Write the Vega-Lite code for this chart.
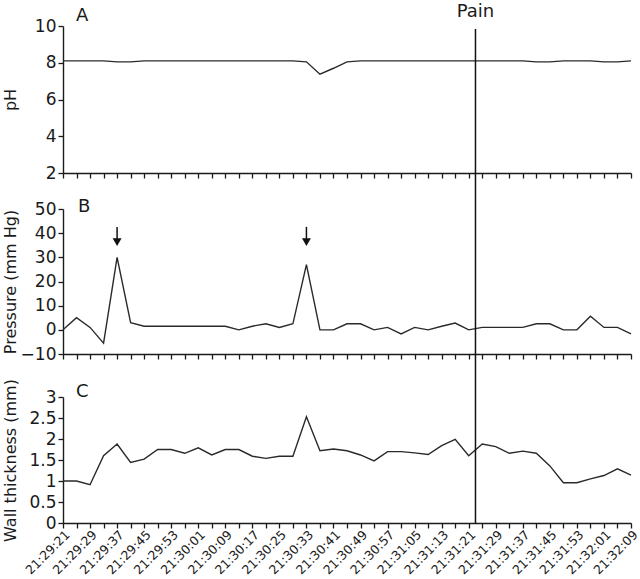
{
  "$schema": "https://vega.github.io/schema/vega-lite/v6.json",
  "background": "white",
  "padding": {"left": 1, "top": 2, "right": 5, "bottom": 0},
  "config": {
    "font": "DejaVu Sans",
    "view": {"stroke": null},
    "axis": {
      "grid": false,
      "domainColor": "#1a1a1a",
      "tickColor": "#1a1a1a",
      "labelColor": "#1a1a1a",
      "titleColor": "#1a1a1a",
      "domainWidth": 1.4,
      "tickWidth": 1.3,
      "tickSize": 5,
      "tickCount": 100,
      "labelOverlap": false,
      "labelBound": false,
      "labelFlush": false,
      "titleFontWeight": "normal",
      "labelFont": "DejaVu Sans",
      "titleFont": "DejaVu Sans"
    }
  },
  "datasets": {
    "series": [
      {"t": 0, "pH": 8.1, "pressure": 0, "wall": 1.0},
      {"t": 4, "pH": 8.1, "pressure": 5, "wall": 1.0},
      {"t": 8, "pH": 8.1, "pressure": 1, "wall": 0.91},
      {"t": 12, "pH": 8.1, "pressure": -5.5, "wall": 1.6},
      {"t": 16, "pH": 8.05, "pressure": 30, "wall": 1.88},
      {"t": 20, "pH": 8.05, "pressure": 3, "wall": 1.44},
      {"t": 24, "pH": 8.1, "pressure": 1.5, "wall": 1.52},
      {"t": 28, "pH": 8.1, "pressure": 1.5, "wall": 1.75},
      {"t": 32, "pH": 8.1, "pressure": 1.5, "wall": 1.75},
      {"t": 36, "pH": 8.1, "pressure": 1.5, "wall": 1.66},
      {"t": 40, "pH": 8.1, "pressure": 1.5, "wall": 1.79},
      {"t": 44, "pH": 8.1, "pressure": 1.5, "wall": 1.62},
      {"t": 48, "pH": 8.1, "pressure": 1.5, "wall": 1.75},
      {"t": 52, "pH": 8.1, "pressure": 0, "wall": 1.75},
      {"t": 56, "pH": 8.1, "pressure": 1.5, "wall": 1.59},
      {"t": 60, "pH": 8.1, "pressure": 2.5, "wall": 1.54},
      {"t": 64, "pH": 8.1, "pressure": 1, "wall": 1.59},
      {"t": 68, "pH": 8.1, "pressure": 2.5, "wall": 1.59},
      {"t": 72, "pH": 8.05, "pressure": 27, "wall": 2.53},
      {"t": 76, "pH": 7.38, "pressure": 0, "wall": 1.72},
      {"t": 80, "pH": 7.7, "pressure": 0, "wall": 1.76},
      {"t": 84, "pH": 8.05, "pressure": 2.5, "wall": 1.72},
      {"t": 88, "pH": 8.1, "pressure": 2.5, "wall": 1.62},
      {"t": 92, "pH": 8.1, "pressure": 0, "wall": 1.48},
      {"t": 96, "pH": 8.1, "pressure": 1, "wall": 1.7},
      {"t": 100, "pH": 8.1, "pressure": -1.7, "wall": 1.7},
      {"t": 104, "pH": 8.1, "pressure": 1, "wall": 1.67},
      {"t": 108, "pH": 8.1, "pressure": 0, "wall": 1.63},
      {"t": 112, "pH": 8.1, "pressure": 1.5, "wall": 1.84},
      {"t": 116, "pH": 8.1, "pressure": 2.8, "wall": 1.99},
      {"t": 120, "pH": 8.1, "pressure": 0, "wall": 1.6},
      {"t": 124, "pH": 8.1, "pressure": 1, "wall": 1.88},
      {"t": 128, "pH": 8.1, "pressure": 1, "wall": 1.82},
      {"t": 132, "pH": 8.1, "pressure": 1, "wall": 1.66},
      {"t": 136, "pH": 8.1, "pressure": 1, "wall": 1.71},
      {"t": 140, "pH": 8.05, "pressure": 2.5, "wall": 1.66},
      {"t": 144, "pH": 8.05, "pressure": 2.5, "wall": 1.36},
      {"t": 148, "pH": 8.1, "pressure": 0, "wall": 0.96},
      {"t": 152, "pH": 8.1, "pressure": 0, "wall": 0.96},
      {"t": 156, "pH": 8.1, "pressure": 5.6, "wall": 1.05},
      {"t": 160, "pH": 8.05, "pressure": 1, "wall": 1.13},
      {"t": 164, "pH": 8.05, "pressure": 1, "wall": 1.29},
      {"t": 168, "pH": 8.1, "pressure": -1.7, "wall": 1.14}
    ],
    "pain": [{"t": 122, "label": "Pain"}],
    "arrows": [{"t": 16}, {"t": 72}]
  },
  "bounds": "flush",
  "spacing": 36,
  "vconcat": [
    {
      "width": 568,
      "height": 147,
      "layer": [
        {
          "data": {"name": "series"},
          "mark": {"type": "line", "color": "#2a2a2a", "strokeWidth": 1.4},
          "encoding": {
            "x": {
              "field": "t", "type": "quantitative",
              "scale": {"domain": [0, 168], "nice": false, "zero": false},
              "axis": {"values": [0,4,8,12,16,20,24,28,32,36,40,44,48,52,56,60,64,68,72,76,80,84,88,92,96,100,104,108,112,116,120,124,128,132,136,140,144,148,152,156,160,164,168], "tickCount": 100, "labels": false, "title": null}
            },
            "y": {
              "field": "pH", "type": "quantitative",
              "scale": {"domain": [2, 10], "nice": false, "zero": false},
              "axis": {"values": [2, 4, 6, 8, 10], "tickCount": 100, "format": "~g", "title": "pH", "labelFontSize": 17, "labelPadding": 2, "titleFontSize": 16, "titleX": -45}
            }
          }
        },
        {
          "data": {"name": "pain"},
          "mark": {"type": "rule", "color": "#111", "strokeWidth": 1.5},
          "encoding": {
            "x": {"field": "t", "type": "quantitative"},
            "y": {"datum": 9.84},
            "y2": {"datum": 0.04}
          }
        },
        {
          "data": {"name": "pain"},
          "mark": {"type": "text", "fontSize": 18, "baseline": "alphabetic", "align": "center", "color": "#1a1a1a"},
          "encoding": {
            "x": {"field": "t", "type": "quantitative"},
            "y": {"datum": 10.5},
            "text": {"field": "label"}
          }
        },
        {
          "data": {"values": [{"t": 3.85, "label": "A"}]},
          "mark": {"type": "text", "fontSize": 18, "baseline": "alphabetic", "align": "left", "color": "#1a1a1a"},
          "encoding": {
            "x": {"field": "t", "type": "quantitative"},
            "y": {"datum": 10.27},
            "text": {"field": "label"}
          }
        }
      ]
    },
    {
      "bounds": "flush",
      "spacing": 43,
      "vconcat": [
        {
          "width": 568,
          "height": 145,
          "layer": [
            {
              "data": {"name": "series"},
              "mark": {"type": "line", "color": "#2a2a2a", "strokeWidth": 1.4},
              "encoding": {
                "x": {
                  "field": "t", "type": "quantitative",
                  "scale": {"domain": [0, 168], "nice": false, "zero": false},
                  "axis": {"values": [0,4,8,12,16,20,24,28,32,36,40,44,48,52,56,60,64,68,72,76,80,84,88,92,96,100,104,108,112,116,120,124,128,132,136,140,144,148,152,156,160,164,168], "tickCount": 100, "labels": false, "title": null}
                },
                "y": {
                  "field": "pressure", "type": "quantitative",
                  "scale": {"domain": [-10, 50], "nice": false, "zero": false},
                  "axis": {"values": [-10, 0, 10, 20, 30, 40, 50], "tickCount": 100, "format": "~g", "title": "Pressure (mm Hg)", "labelFontSize": 17, "labelPadding": 2, "titleFontSize": 16, "titleX": -45}
                }
              }
            },
            {
              "data": {"name": "arrows"},
              "mark": {"type": "rule", "color": "#111", "strokeWidth": 1.5},
              "encoding": {
                "x": {"field": "t", "type": "quantitative"},
                "y": {"datum": 42.6},
                "y2": {"datum": 37.5}
              }
            },
            {
              "data": {"name": "arrows"},
              "mark": {"type": "point", "shape": "triangle-down", "filled": true, "color": "#111", "size": 80, "opacity": 1},
              "encoding": {
                "x": {"field": "t", "type": "quantitative"},
                "y": {"datum": 36.3}
              }
            },
            {
              "data": {"name": "pain"},
              "mark": {"type": "rule", "color": "#111", "strokeWidth": 1.5},
              "encoding": {
                "x": {"field": "t", "type": "quantitative"},
                "y": {"datum": 50},
                "y2": {"datum": -27.8}
              }
            },
            {
              "data": {"values": [{"t": 4.4, "label": "B"}]},
              "mark": {"type": "text", "fontSize": 18, "baseline": "alphabetic", "align": "left", "color": "#1a1a1a"},
              "encoding": {
                "x": {"field": "t", "type": "quantitative"},
                "y": {"datum": 48.76},
                "text": {"field": "label"}
              }
            }
          ]
        },
        {
          "width": 568,
          "height": 126,
          "layer": [
            {
              "data": {"name": "series"},
              "mark": {"type": "line", "color": "#2a2a2a", "strokeWidth": 1.4},
              "encoding": {
                "x": {
                  "field": "t", "type": "quantitative",
                  "scale": {"domain": [0, 168], "nice": false, "zero": false},
                  "axis": {
                    "values": [0,4,8,12,16,20,24,28,32,36,40,44,48,52,56,60,64,68,72,76,80,84,88,92,96,100,104,108,112,116,120,124,128,132,136,140,144,148,152,156,160,164,168],
                    "tickCount": 100,
                    "labelExpr": "datum.value % 8 == 0 ? '21:' + floor((1761 + datum.value) / 60) + ':' + (((1761 + datum.value) % 60) < 10 ? '0' : '') + ((1761 + datum.value) % 60) : ''",
                    "labelAngle": -45,
                    "labelFontSize": 12.5,
                    "labelPadding": 0,
                    "title": null
                  }
                },
                "y": {
                  "field": "wall", "type": "quantitative",
                  "scale": {"domain": [0, 3], "nice": false, "zero": false},
                  "axis": {"values": [0, 0.5, 1, 1.5, 2, 2.5, 3], "tickCount": 100, "format": "~g", "title": "Wall thickness (mm)", "labelFontSize": 17, "labelPadding": 2, "titleFontSize": 16, "titleX": -45}
                }
              }
            },
            {
              "data": {"name": "pain"},
              "mark": {"type": "rule", "color": "#111", "strokeWidth": 1.5},
              "encoding": {
                "x": {"field": "t", "type": "quantitative"},
                "y": {"datum": 3},
                "y2": {"datum": 0}
              }
            },
            {
              "data": {"values": [{"t": 3.85, "label": "C"}]},
              "mark": {"type": "text", "fontSize": 18, "baseline": "alphabetic", "align": "left", "color": "#1a1a1a"},
              "encoding": {
                "x": {"field": "t", "type": "quantitative"},
                "y": {"datum": 3.0},
                "text": {"field": "label"}
              }
            }
          ]
        }
      ]
    }
  ]
}
